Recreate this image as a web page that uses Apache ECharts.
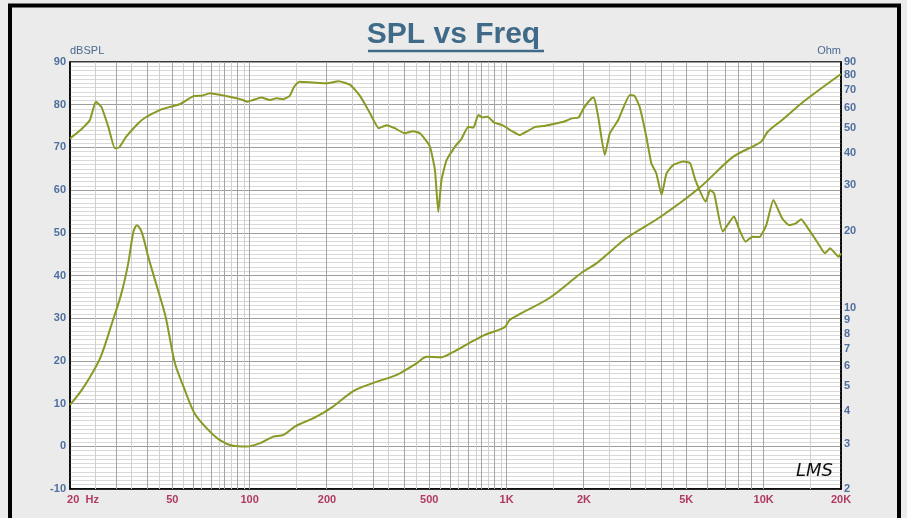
<!DOCTYPE html>
<html>
<head>
<meta charset="utf-8">
<title>SPL vs Freq</title>
<script src="https://cdn.jsdelivr.net/npm/echarts@6.0.0/dist/echarts.min.js"></script>
<style>
html, body { margin: 0; padding: 0; background: #ebebeb; }
#chart { width: 907px; height: 518px; }
</style>
</head>
<body>
<div id="chart"></div>
<script>
// SPL curve (Hz / dBSPL)
var splFreq = [20, 22.1, 23.9, 25.2, 26.5, 28.2, 29.9, 31.1, 33.1, 36.8, 39.3, 44.9, 49.1, 53.4, 60.5, 65.3, 70.1, 81.6, 91.9, 98.1,
  103, 111, 120, 127, 135, 143, 149, 156, 176, 200, 222, 247, 270, 294, 318, 341, 367, 401, 432, 460,
  502, 526, 542, 558, 584, 637, 666, 708, 742, 776, 805, 844, 894, 962, 1042, 1123, 1194, 1296, 1396, 1522,
  1666, 1795, 1905, 1995, 2140, 2187, 2271, 2410, 2520, 2717, 3017, 3150, 3292, 3496, 3655, 3824, 4008, 4189, 4450, 4877,
  5178, 5420, 5950, 6186, 6420, 6932, 7670, 8000, 8510, 9050, 9630, 10240, 10910, 11800, 12550, 13340, 13990, 14870, 16300, 17320,
  18140, 19600, 20000];
var splDb = [72.1, 74.2, 76.4, 80.7, 79.5, 74.8, 69.8, 70.0, 72.5, 75.6, 77.0, 78.8, 79.5, 80.1, 82.0, 82.1, 82.7, 82.0, 81.3, 80.7,
  81.1, 81.7, 81.1, 81.5, 81.3, 82.0, 84.2, 85.4, 85.2, 85.0, 85.5, 84.6, 81.9, 78.0, 74.5, 75.2, 74.5, 73.3, 73.8, 73.3,
  70.3, 64.7, 54.9, 62.4, 67.0, 70.6, 71.9, 74.8, 74.6, 77.6, 77.0, 77.2, 75.8, 75.2, 73.9, 72.9, 73.7, 74.8, 75.0, 75.5,
  76.0, 76.8, 77.0, 79.2, 81.5, 81.7, 77.2, 68.2, 73.3, 76.4, 82.3, 82.0, 79.5, 72.5, 66.3, 63.9, 58.9, 63.9, 65.9, 66.7,
  66.3, 62.4, 57.3, 60.0, 59.2, 50.3, 53.8, 51.1, 47.9, 49.1, 49.0, 51.8, 57.7, 53.4, 51.8, 52.2, 53.2, 51.1, 47.5, 45.2,
  46.4, 44.4, 45.2];

// impedance curve (Hz / Ohm)
var impFreq = [20, 22.2, 24.6, 26.5, 29.4, 31.7, 33.7, 35.3, 36.4, 38.0, 40.3, 43.6, 47.1, 51.2, 55.3, 61.0, 68.0, 76.3, 86.1, 97.2,
  109.9, 123.6, 135.6, 150, 182, 211, 254, 313, 374, 446, 489, 552, 605, 704, 818, 981, 1027, 1106, 1472, 1980,
  2235, 2920, 3975, 5600, 7625, 9770, 10370, 11700, 14560, 20000];
var impOhm = [4.23, 4.83, 5.69, 6.60, 9.02, 11.44, 14.95, 19.8, 21.0, 19.8, 15.87, 12.14, 9.29, 6.13, 4.98, 3.93, 3.44, 3.10, 2.94, 2.92,
  3.01, 3.19, 3.24, 3.49, 3.81, 4.17, 4.80, 5.21, 5.53, 6.13, 6.50, 6.47, 6.70, 7.28, 7.89, 8.45, 9.02, 9.43, 11.0, 13.87,
  14.95, 18.69, 22.66, 29.2, 38.7, 44.2, 48.35, 53.3, 64.1, 80.9];

var freqTicks = [20, 50, 100, 200, 500, 1000, 2000, 5000, 10000, 20000];
var freqTickLabels = ['20  Hz', '50', '100', '200', '500', '1K', '2K', '5K', '10K', '20K'];
var ohmTicks = [2, 3, 4, 5, 6, 7, 8, 9, 10, 20, 30, 40, 50, 60, 70, 80, 90];

// vertical grid (Hz)
var gridFreqDark = [30, 40, 50, 60, 70, 80, 90, 100, 200, 300, 400, 500, 600, 700, 800, 900, 1000,
  2000, 3000, 4000, 5000, 6000, 7000, 8000, 9000, 10000];
var gridFreqLight = [25, 35, 45, 55, 65, 75, 85, 95, 150, 250, 350, 450, 550, 650, 750, 850, 950,
  1500, 2500, 3500, 4500, 15000];

var curveColor = '#8b9924';
var lg = Math.log10;

// both x and (for impedance) y are plotted on log10 value axes
function pairs(xs, ys, logY) {
  var out = [];
  for (var i = 0; i < xs.length; i++) out.push([lg(xs[i]), logY ? lg(ys[i]) : ys[i]]);
  return out;
}

var gridLines = [];
gridFreqLight.forEach(function (f) {
  gridLines.push({ xAxis: lg(f), lineStyle: { color: '#cfcfcf', width: 1, type: 'solid' } });
});
gridFreqDark.forEach(function (f) {
  gridLines.push({ xAxis: lg(f), lineStyle: { color: '#a5a5a5', width: 1, type: 'solid' } });
});

var myChart = echarts.init(document.getElementById('chart'));
var option = {
  animation: false,
  backgroundColor: '#ebebeb',
  title: {
    text: 'SPL vs Freq',
    left: 'center',
    top: 15,
    textStyle: { fontSize: 30, fontWeight: 'bold', color: '#3f6a88', fontFamily: 'Liberation Sans' }
  },
  graphic: [
    { type: 'rect', shape: { x: 10, y: 5.5, width: 889, height: 600 }, style: { fill: null, stroke: '#000', lineWidth: 4 }, silent: true },
    { type: 'line', shape: { x1: 368, y1: 51, x2: 544, y2: 51 }, style: { stroke: '#3f6a88', lineWidth: 2.5 }, silent: true },
    { type: 'text', left: 796, top: 462, style: { text: 'LMS', fill: '#111', font: 'italic 18px "DejaVu Sans"' }, z: 10, silent: true }
  ],
  grid: {
    left: 70, right: 66, top: 62, bottom: 29,
    show: true, backgroundColor: '#fff', borderColor: '#000', borderWidth: 1.5
  },
  xAxis: {
    type: 'value',
    min: lg(20), max: lg(20000),
    axisLine: { show: true, onZero: false, lineStyle: { color: '#000', width: 1.5 } },
    axisTick: { show: false },
    splitLine: { show: false },
    axisLabel: {
      customValues: freqTicks.map(lg),
      color: '#b03a62', fontSize: 11, fontWeight: 'bold', fontFamily: 'Liberation Sans', margin: 5,
      formatter: function (v) {
        var best = 0;
        for (var i = 1; i < freqTicks.length; i++) {
          if (Math.abs(lg(freqTicks[i]) - v) < Math.abs(lg(freqTicks[best]) - v)) best = i;
        }
        if (best === 0) return '{first|' + freqTickLabels[0] + '}';
        return freqTickLabels[best];
      },
      rich: {
        first: { color: '#b03a62', fontSize: 11, fontWeight: 'bold', fontFamily: 'Liberation Sans', padding: [0, 0, 0, 26] }
      }
    }
  },
  yAxis: [
    {
      type: 'value', position: 'left',
      min: -10, max: 90, interval: 10,
      name: 'dBSPL', nameLocation: 'end', nameGap: 3,
      nameTextStyle: { align: 'left', color: '#4a6a90', fontSize: 11, fontFamily: 'Liberation Sans' },
      axisLine: { show: true, onZero: false, lineStyle: { color: '#000', width: 1.5 } },
      axisTick: { show: false },
      axisLabel: { color: '#4f6f9f', fontSize: 11, fontWeight: 'bold', fontFamily: 'Liberation Sans', margin: 4 },
      splitLine: { show: true, lineStyle: { color: '#9d9d9d', width: 1 } },
      minorTick: { show: false, splitNumber: 10 },
      minorSplitLine: { show: true, lineStyle: { color: '#d9d9d9', width: 1 } }
    },
    {
      type: 'value', position: 'right',
      min: lg(2), max: lg(90),
      name: 'Ohm', nameLocation: 'end', nameGap: 3,
      nameTextStyle: { align: 'right', color: '#4a6a90', fontSize: 11, fontFamily: 'Liberation Sans' },
      axisLine: { show: true, onZero: false, lineStyle: { color: '#000', width: 1.5 } },
      axisTick: { show: false },
      splitLine: { show: false },
      axisLabel: {
        customValues: ohmTicks.map(lg),
        color: '#4f6f9f', fontSize: 11, fontWeight: 'bold', fontFamily: 'Liberation Sans', margin: 3,
        formatter: function (v) { return String(Math.round(Math.pow(10, v))); }
      }
    }
  ],
  series: [
    {
      name: 'SPL', type: 'line', xAxisIndex: 0, yAxisIndex: 0,
      data: pairs(splFreq, splDb, false),
      symbol: 'none', z: 3, smooth: 0.15,
      lineStyle: { color: curveColor, width: 2 },
      markLine: {
        silent: true, symbol: 'none', z: 1,
        label: { show: false },
        emphasis: { disabled: true },
        data: gridLines
      }
    },
    {
      name: 'Impedance', type: 'line', xAxisIndex: 0, yAxisIndex: 1,
      data: pairs(impFreq, impOhm, true),
      symbol: 'none', z: 3, smooth: 0.3,
      lineStyle: { color: curveColor, width: 2 }
    }
  ]
};
myChart.setOption(option);
</script>
</body>
</html>
